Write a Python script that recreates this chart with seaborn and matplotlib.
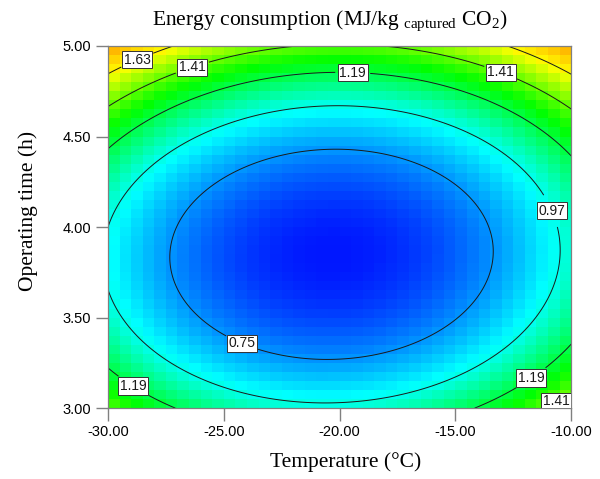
import numpy as np
import pandas as pd
import matplotlib
matplotlib.use("Agg")
import matplotlib.pyplot as plt
from matplotlib.colors import ListedColormap, hsv_to_rgb
import seaborn as sns

# Fitted quadratic response-surface model in coded factors:
#   A = (Temperature + 20) / 10,  B = (Operating time - 4) / 1
coef_intercept = 0.545
coef_A = 0.027
coef_B = 0.196
coef_AB = -0.03
coef_A2 = 0.452
coef_B2 = 0.654

temp_range = [-30.0, -10.0]
time_range = [3.0, 5.0]
contour_levels = [0.75, 0.97, 1.19, 1.41, 1.63]
x_tick_values = [-30.0, -25.0, -20.0, -15.0, -10.0]
y_tick_values = [3.00, 3.50, 4.00, 4.50, 5.00]

# label anchor points (temperature, time) for the contour labels
label_temps = [-28.83, -26.46, -19.42, -12.85, -10.86, -24.25, -28.83, -11.9, -10.9]
label_times = [4.95, 4.92, 4.906, 4.92, 4.09, 3.35, 3.14, 3.2, 3.09]

# colour ramp: response value -> hue (degrees), blue through cyan, green, yellow, orange
ramp_values = [0.49, 0.75, 0.97, 1.28, 1.63, 1.85]
ramp_hues = [240, 205, 175, 120, 58, 38]

n_cells = 40


def energy(T, t):
    a = (np.asarray(T) + 20.0) / 10.0
    b = np.asarray(t) - 4.0
    return (coef_intercept + coef_A * a + coef_B * b + coef_AB * a * b
            + coef_A2 * a ** 2 + coef_B2 * b ** 2)


# cell centres of the coloured grid (rows from top = highest time)
dT = (temp_range[1] - temp_range[0]) / n_cells
dt = (time_range[1] - time_range[0]) / n_cells
T_centers = temp_range[0] + (np.arange(n_cells) + 0.5) * dT
t_centers = time_range[1] - (np.arange(n_cells) + 0.5) * dt
TT, tt = np.meshgrid(T_centers, t_centers)
grid = pd.DataFrame(energy(TT, tt), index=np.round(t_centers, 3),
                    columns=np.round(T_centers, 3))


def to_x(T):
    return (np.asarray(T) - temp_range[0]) / dT


def to_y(t):
    return (time_range[1] - np.asarray(t)) / dt


vmin, vmax = ramp_values[0], ramp_values[-1]
vals = np.linspace(vmin, vmax, 512)
hues = np.interp(vals, ramp_values, ramp_hues) / 360.0
rgb = hsv_to_rgb(np.stack([hues, np.ones_like(hues), np.ones_like(hues)], axis=1))
cmap = ListedColormap(rgb)

plt.rcParams["mathtext.fontset"] = "custom"
plt.rcParams["mathtext.rm"] = "Liberation Serif"
plt.rcParams["mathtext.it"] = "Liberation Serif:italic"

fig = plt.figure(figsize=(6.0, 4.79), dpi=100)
ax = fig.add_axes([0.18, 0.148, 0.772, 0.756])
sns.heatmap(grid, ax=ax, cmap=cmap, vmin=vmin, vmax=vmax, cbar=False,
            xticklabels=False, yticklabels=False, linewidths=0)

# contour lines on a fine grid
Tf = np.linspace(temp_range[0], temp_range[1], 400)
tf = np.linspace(time_range[0], time_range[1], 400)
TF, tF = np.meshgrid(Tf, tf)
cs = ax.contour(to_x(TF), to_y(tF), energy(TF, tF), levels=contour_levels,
                colors="#1a1a1a", linewidths=0.7)
manual = list(zip(to_x(label_temps), to_y(label_times)))
texts = ax.clabel(cs, fmt="%.2f", manual=manual, inline=True, fontsize=10,
                  inline_spacing=2)
for txt in texts:
    txt.set_rotation(0)
    txt.set_family("Liberation Sans")
    txt.set_bbox(dict(boxstyle="square,pad=0.12", facecolor="white",
                      edgecolor="#333333", linewidth=0.7))

ax.set_xlim(0, n_cells)
ax.set_ylim(n_cells, 0)
ax.set_xticks(to_x(x_tick_values))
ax.set_xticklabels([f"{v:.2f}" for v in x_tick_values], rotation=0,
                   family="Liberation Sans", fontsize=10.5)
ax.set_yticks(to_y(y_tick_values))
ax.set_yticklabels([f"{v:.2f}" for v in y_tick_values], rotation=0,
                   family="Liberation Sans", fontsize=10.5)
ax.tick_params(axis="both", direction="out", length=9, width=1.0,
               color="#808080", pad=3, left=True, bottom=True)
ax.set_xlabel("")
ax.set_ylabel("")
for side, sp in ax.spines.items():
    sp.set_visible(True)
    sp.set_color("#808080")
    sp.set_linewidth(0.9)

fig.text(330 / 600, 1 - 21 / 479,
         r"Energy consumption (MJ/kg $_{\rm captured}$ CO$_2$)",
         ha="center", va="center", family="Liberation Serif", fontsize=15.5)
fig.text(346 / 600, 1 - 462 / 479, "Temperature (°C)", ha="center",
         va="center", family="Liberation Serif", fontsize=15.5)
fig.text(28 / 600, 1 - 211 / 479, "Operating time (h)", ha="center",
         va="center", rotation=90, family="Liberation Serif", fontsize=15.5)

fig.savefig("out.png", dpi=100)
